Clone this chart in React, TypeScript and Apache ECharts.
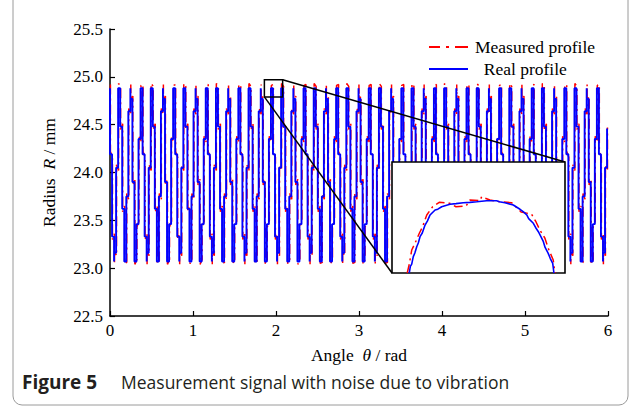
import React, { useEffect, useRef } from "react";
import * as echarts from "echarts";

// ---- Axis ticks ----
const angleTicks = [0, 1, 2, 3, 4, 5, 6];
const radiusTicks = [22.5, 23.0, 23.5, 24.0, 24.5, 25.0, 25.5];

// ---- Main signal ----
// Angle is read by an encoder with 256 steps per revolution; the 48-tooth profile
// repeats its step pattern every 16 encoder steps (3 teeth). One such block:
const encoderStep = (2 * Math.PI) / 256;
const blockSteps = 16;
const blockColumn = [0, 0, 1, 1, 2, 2, 2, 3, 3, 4, 4, 5, 5, 6, 6, 7, 7, 8, 8, 9, 9, 10, 10, 10, 11, 11, 12, 12, 13, 13, 14, 14, 15, 15];
const realBlockRadius = [24.88, 24.19, 24.19, 23.33, 23.33, 23.07, 23.16, 23.16, 24.05, 24.05, 24.88, 24.88, 24.48, 24.48, 23.62, 23.62, 23.07, 23.07, 23.75, 23.75, 24.64, 24.64, 24.88, 24.77, 24.77, 23.9, 23.9, 23.07, 23.07, 23.46, 23.46, 24.35, 24.35, 24.88];
const measuredBlockRadius = [24.92, 24.22, 24.16, 23.3, 23.36, 23.04, 23.18, 23.13, 24.08, 24.02, 24.93, 24.9, 24.45, 24.51, 23.59, 23.65, 23.05, 23.06, 23.78, 23.72, 24.67, 24.61, 24.92, 24.75, 24.8, 23.87, 23.93, 23.04, 23.09, 23.43, 23.49, 24.38, 24.32, 24.91];
const lastColumn = 244;
const realEndRadius = 24.46;
const measuredEndRadius = 24.47;
const measuredAngleOffset = 0.005;

// ---- Zoomed detail (inset, local units 0-100) ----
const zoomAngle = [1.86, 2.08];
const zoomRadius = [24.79, 24.97];
const insetRealX = [10.0, 10.6, 11.4, 12.3, 13.2, 14.3, 15.2, 16.2, 17.5, 19.1, 20.5, 22.0, 24.9, 26.5, 28.7, 33.5, 37, 41.2, 45, 49, 54.7, 60.5, 62, 65.3, 70.1, 74.0, 76, 77.9, 79, 81.7, 83, 84.6, 86, 87.5, 88.5, 90.3, 91.5, 92.9, 93.6];
const insetRealY = [0, 6, 8, 14.7, 18, 23.7, 27, 32.7, 36, 43.2, 47, 52.3, 56.8, 57.5, 59.7, 61.9, 62.5, 63.3, 63.6, 64.2, 65.1, 65.1, 64.2, 63.3, 61.3, 57.4, 55, 52.3, 49, 44.8, 41, 37.2, 33, 28.2, 23, 17.7, 13, 8.7, 0];
const insetMeasuredX = [8.8, 10, 11.4, 13.3, 15.8, 17.7, 20.1, 23.5, 27.3, 33.5, 37.0, 42.8, 45.1, 50.9, 51.8, 56.6, 62.4, 69.2, 73.0, 74.6, 80.7, 83.2, 85.5, 88.4, 90.3, 93.2, 94.2];
const insetMeasuredY = [0, 8, 20.7, 26.8, 35.8, 41.7, 52.3, 59.7, 63.7, 62.8, 59.7, 60.4, 65.8, 65.1, 68.7, 65.8, 64.2, 63.3, 57.4, 55, 53, 46.2, 38.7, 31.3, 22.3, 11.7, 0];

function buildSignal(blockRadius: number[], endRadius: number, offset: number) {
  const out: number[][] = [];
  for (let b = 0; b * blockSteps <= lastColumn; b++) {
    for (let i = 0; i < blockColumn.length; i++) {
      const col = b * blockSteps + blockColumn[i];
      if (col > lastColumn) return out;
      if (col === lastColumn && i > 0 && blockColumn[i - 1] === blockColumn[i]) {
        out.push([col * encoderStep + offset, endRadius]);
        return out;
      }
      out.push([col * encoderStep + offset, blockRadius[i]]);
    }
  }
  return out;
}

const serif = "'Liberation Serif', 'Times New Roman', serif";
const insetBox = { left: 392, top: 162, width: 173, height: 111 };

export default function App() {
  const ref = useRef<HTMLDivElement>(null);
  useEffect(() => {
    if (!ref.current) return;
    const chart = echarts.init(ref.current, undefined, { renderer: "svg" });
    const realData = buildSignal(realBlockRadius, realEndRadius, 0);
    const measuredData = buildSignal(measuredBlockRadius, measuredEndRadius, measuredAngleOffset);
    const insetReal = insetRealX.map((x, i) => [x, insetRealY[i]]);
    const insetMeasured = insetMeasuredX.map((x, i) => [x, insetMeasuredY[i]]);
    const rich = {
      t: { fontFamily: serif, fontSize: 17.5, color: "#000" },
      i: { fontFamily: serif, fontSize: 17.5, fontStyle: "italic", color: "#000" },
    };
    const option: any = {
      animation: false,
      backgroundColor: "#fff",
      grid: [
        { left: 110, right: 29, top: 29, bottom: 94 },
        { left: insetBox.left, top: insetBox.top, width: insetBox.width, height: insetBox.height },
      ],
      xAxis: [
        {
          type: "value",
          gridIndex: 0,
          min: angleTicks[0],
          max: angleTicks[angleTicks.length - 1],
          interval: 1,
          axisLine: { show: true, onZero: false, lineStyle: { color: "#000", width: 1.5 } },
          axisTick: { show: true, inside: true, length: 5, lineStyle: { color: "#000", width: 1.2 } },
          axisLabel: { color: "#000", fontFamily: serif, fontSize: 17, margin: 6 },
          splitLine: { show: false },
          name: "{t|Angle  }{i|θ}{t| / rad}",
          nameLocation: "middle",
          nameGap: 30,
          nameTextStyle: { rich },
        },
        { type: "value", gridIndex: 1, min: 0, max: 100, show: false },
      ],
      yAxis: [
        {
          type: "value",
          gridIndex: 0,
          min: radiusTicks[0],
          max: radiusTicks[radiusTicks.length - 1],
          interval: 0.5,
          axisLine: { show: true, onZero: false, lineStyle: { color: "#000", width: 1.5 } },
          axisTick: { show: true, inside: true, length: 5, lineStyle: { color: "#000", width: 1.2 } },
          axisLabel: { color: "#000", fontFamily: serif, fontSize: 17, margin: 7, formatter: (v: number) => v.toFixed(1) },
          splitLine: { show: false },
          name: "{t|Radius  }{i|R}{t| / mm}",
          nameLocation: "middle",
          nameGap: 52,
          nameTextStyle: { rich },
        },
        { type: "value", gridIndex: 1, min: 0, max: 100, show: false },
      ],
      legend: {
        data: [
          { name: "Measured profile", icon: "path://M0,0H11V2H0ZM17,0H20V2H17ZM26,0H39V2H26Z" },
          { name: "Real profile", icon: "path://M0,0H39V2H0Z" },
        ],
        orient: "vertical",
        left: 424,
        top: 33,
        itemWidth: 39,
        itemHeight: 2,
        itemGap: 4,
        selectedMode: false,
        formatter: (n: string) => (n === "Real profile" ? "  " + n : n),
        textStyle: { fontFamily: serif, fontSize: 17.5, color: "#000", padding: [0, 0, 0, 2] },
      },
      series: [
        {
          name: "Measured profile",
          type: "line",
          xAxisIndex: 0,
          yAxisIndex: 0,
          data: measuredData,
          symbol: "none",
          lineStyle: { color: "#ff0000", width: 1.5, type: [10, 4, 2, 4] },
          itemStyle: { color: "#ff0000" },
          z: 2,
        },
        {
          name: "Real profile",
          type: "line",
          xAxisIndex: 0,
          yAxisIndex: 0,
          data: realData,
          symbol: "none",
          lineStyle: { color: "#0000ff", width: 1.9 },
          itemStyle: { color: "#0000ff" },
          z: 3,
        },
        {
          name: "inset measured",
          type: "line",
          xAxisIndex: 1,
          yAxisIndex: 1,
          data: insetMeasured,
          symbol: "none",
          lineStyle: { color: "#ff0000", width: 1.5, type: [9, 4, 2, 4] },
          z: 20,
        },
        {
          name: "inset real",
          type: "line",
          xAxisIndex: 1,
          yAxisIndex: 1,
          data: insetReal,
          symbol: "none",
          lineStyle: { color: "#0000ff", width: 1.6 },
          z: 21,
        },
      ],
    };
    chart.setOption(option);

    const p0 = chart.convertToPixel({ xAxisIndex: 0, yAxisIndex: 0 }, [zoomAngle[0], zoomRadius[1]]) as number[];
    const p1 = chart.convertToPixel({ xAxisIndex: 0, yAxisIndex: 0 }, [zoomAngle[1], zoomRadius[0]]) as number[];
    const bx = insetBox.left, by = insetBox.top, bw = insetBox.width, bh = insetBox.height;
    chart.setOption({
      graphic: [
        {
          type: "rect",
          z: 1,
          shape: { x: 13, y: -20, width: 615, height: 425, r: 9 },
          style: { fill: "none", stroke: "#9a9a9a", lineWidth: 1 },
        },
        {
          type: "rect",
          z: 10,
          shape: { x: p0[0], y: p0[1], width: p1[0] - p0[0], height: p1[1] - p0[1] },
          style: { fill: "none", stroke: "#000", lineWidth: 1.5 },
        },
        {
          type: "line",
          z: 10,
          shape: { x1: p1[0], y1: p0[1], x2: bx + bw, y2: by },
          style: { stroke: "#000", lineWidth: 1.5 },
        },
        {
          type: "line",
          z: 10,
          shape: { x1: p0[0], y1: p1[1], x2: bx, y2: by + bh },
          style: { stroke: "#000", lineWidth: 1.5 },
        },
        {
          type: "rect",
          z: 15,
          shape: { x: bx, y: by, width: bw, height: bh },
          style: { fill: "#fff", stroke: "#000", lineWidth: 1.6 },
        },
        {
          type: "text",
          z: 10,
          left: 22,
          top: 372,
          style: { text: "Figure 5", fontFamily: "'Open Sans', sans-serif", fontWeight: "bold", fontSize: 19, fill: "#231f20" },
        },
        {
          type: "text",
          z: 10,
          left: 121,
          top: 373,
          style: { text: "Measurement signal with noise due to vibration", fontFamily: "'Open Sans', sans-serif", fontSize: 17.5, fill: "#231f20" },
        },
      ],
    });
    return () => chart.dispose();
  }, []);
  return (
    <div
      ref={ref}
      style={{ position: "fixed", left: 0, top: 0, width: 637, height: 410, background: "#fff" }}
    />
  );
}
